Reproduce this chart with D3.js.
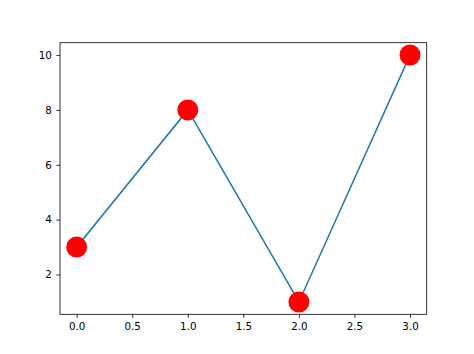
<!DOCTYPE html>
<html>
<head>
<script src="https://d3js.org/d3.v7.min.js"></script>
<style>
  body { margin: 0; background: #fff; }
  text { font-family: "DejaVu Sans", sans-serif; }
</style>
</head>
<body>
<svg width="474" height="354"></svg>
<script>
"use strict";

var xs = [0, 1, 2, 3];
var ys = [3, 8, 1, 10];
var xTicks = [0, 0.5, 1, 1.5, 2, 2.5, 3];
var yTicks = [2, 4, 6, 8, 10];

var svg = d3.select("svg"),
    plotLeft = 60, plotRight = 426.7, plotTop = 42.7, plotBottom = 314.3;

var x = d3.scaleLinear().domain([-0.15, 3.15]).range([plotLeft, plotRight]);
var y = d3.scaleLinear().domain([0.55, 10.45]).range([plotBottom, plotTop]);

var xAxis = svg.append("g")
    .attr("transform", "translate(0," + plotBottom + ")")
    .call(d3.axisBottom(x).tickValues(xTicks).tickFormat(d3.format(".1f")).tickSize(3.6).tickPadding(4.5));
var yAxis = svg.append("g")
    .attr("transform", "translate(" + plotLeft + ",0)")
    .call(d3.axisLeft(y).tickValues(yTicks).tickFormat(d3.format("d")).tickSize(3.6).tickPadding(4.5));

[xAxis, yAxis].forEach(g => {
    g.select(".domain").remove();
    g.selectAll("line").attr("stroke", "#000").attr("stroke-width", 0.8);
    g.selectAll("text").attr("fill", "#000").style("font-size", "10.3px").style("font-family", "DejaVu Sans");
});

var line = d3.line().x((d, i) => x(xs[i])).y(d => y(d));
svg.append("path")
    .datum(ys)
    .attr("d", line)
    .attr("fill", "none")
    .attr("stroke", "#1f77b4")
    .attr("stroke-width", 1.5)
    .attr("stroke-linecap", "square");

svg.selectAll("circle.pt")
    .data(ys)
    .enter().append("circle")
    .attr("class", "pt")
    .attr("cx", (d, i) => x(xs[i]))
    .attr("cy", d => y(d))
    .attr("r", 10.5)
    .attr("fill", "#ff0000");

svg.append("rect")
    .attr("x", plotLeft).attr("y", plotTop)
    .attr("width", plotRight - plotLeft).attr("height", plotBottom - plotTop)
    .attr("fill", "none")
    .attr("stroke", "#000")
    .attr("stroke-width", 0.8);
</script>
</body>
</html>
